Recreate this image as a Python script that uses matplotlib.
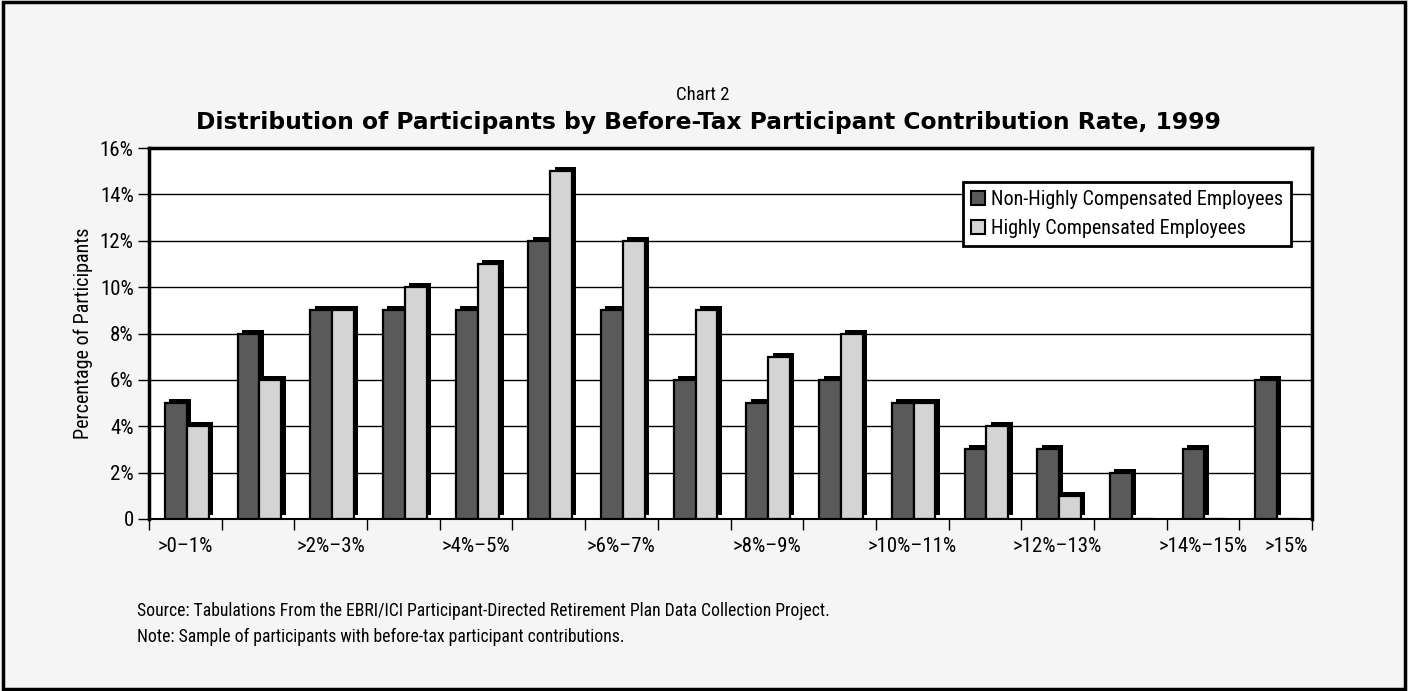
import matplotlib
matplotlib.use('Agg')
import matplotlib.pyplot as plt
import numpy as np
from matplotlib import font_manager
from matplotlib.patches import Patch, Rectangle

# pick a narrow font if there is one
names = set(f.name for f in font_manager.fontManager.ttflist)
narrow = 'DejaVu Sans'
for cand in ['Liberation Sans Narrow', 'DejaVu Sans Condensed', 'Roboto Condensed', 'Open Sans Condensed']:
    if cand in names:
        narrow = cand
        break
plt.rcParams['font.family'] = [narrow, 'DejaVu Sans']

categories = ['>0–1%', '>1%–2%', '>2%–3%', '>3%–4%', '>4%–5%', '>5%–6%', '>6%–7%', '>7%–8%',
              '>8%–9%', '>9%–10%', '>10%–11%', '>11%–12%', '>12%–13%', '>13%–14%', '>14%–15%', '>15%']
non_hce = [5, 8, 9, 9, 9, 12, 9, 6, 5, 6, 5, 3, 3, 2, 3, 6]
hce = [4, 6, 9, 10, 11, 15, 12, 9, 7, 8, 5, 4, 1, 0, 0, 0]
shown_labels = ['>0–1%', '>2%–3%', '>4%–5%', '>6%–7%', '>8%–9%', '>10%–11%', '>12%–13%', '>14%–15%', '>15%']
yticks = [0, 2, 4, 6, 8, 10, 12, 14, 16]
ytick_labels = ['0', '2%', '4%', '6%', '8%', '10%', '12%', '14%', '16%']

DARK = '#5a5a5a'
LIGHT = '#d4d4d4'
BG = '#f5f5f5'

W, H = 1408, 691
fig = plt.figure(figsize=(W / 100, H / 100), dpi=100, facecolor=BG)
# frame round the whole picture
fig.add_artist(Rectangle((0.002, 0.003), 0.996, 0.994, transform=fig.transFigure,
                         fill=False, edgecolor='black', linewidth=2.5))

ax = fig.add_axes([149 / W, 1 - 519 / H, (1312 - 149) / W, (519 - 148) / H])
ax.set_facecolor('white')

x = np.arange(len(categories))
bw = 0.30
off = 0.02
dx, dy = 0.06, 0.17

# depth shadow first, then the face
ax.bar(x + off - bw / 2 + 0.5 + dx, non_hce, bw, bottom=dy, color='black', linewidth=0, zorder=2)
ax.bar(x + off + bw / 2 + 0.5 + dx, hce, bw, bottom=dy, color='black', linewidth=0, zorder=2)
ax.bar(x + off - bw / 2 + 0.5, non_hce, bw, color=DARK, edgecolor='black', linewidth=1.6, zorder=3)
ax.bar(x + off + bw / 2 + 0.5, hce, bw, color=LIGHT, edgecolor='black', linewidth=1.6, zorder=3)

ax.set_xlim(0, len(categories))
ax.set_ylim(0, 16)
ax.set_yticks(yticks)
ax.set_yticklabels(ytick_labels, fontsize=15)
ax.yaxis.grid(True, color='black', linewidth=1)
ax.set_axisbelow(True)

ax.set_xticks(np.arange(len(categories) + 1))
ax.set_xticklabels([])
ax.set_xticks([0.5, 2.5, 4.5, 6.5, 8.5, 10.5, 12.5, 14.5, 15.65], minor=True)
ax.set_xticklabels(shown_labels, minor=True, fontsize=15)
ax.tick_params(axis='x', which='minor', length=0, pad=13)
ax.tick_params(axis='x', which='major', length=8, direction='out', width=1)
ax.tick_params(axis='y', length=8, direction='out', width=1, pad=3)

for s in ['left', 'top', 'right']:
    ax.spines[s].set_linewidth(2.5)
ax.spines['bottom'].set_linewidth(1.5)

ax.set_ylabel('Percentage of Participants', fontsize=14.5, labelpad=5)

handles = [Patch(facecolor=DARK, edgecolor='black', linewidth=1.5, label='Non-Highly Compensated Employees'),
           Patch(facecolor=LIGHT, edgecolor='black', linewidth=1.5, label='Highly Compensated Employees')]
leg = ax.legend(handles=handles, loc='upper right', bbox_to_anchor=(0.982, 0.908), fontsize=14.5,
                frameon=True, fancybox=False, framealpha=1, edgecolor='black',
                handlelength=0.7, handleheight=0.7, handletextpad=0.3, borderpad=0.4,
                labelspacing=0.5, borderaxespad=0)
leg.get_frame().set_linewidth(2)

fig.text(703 / W, 1 - 95 / H, 'Chart 2', ha='center', va='center', fontsize=13.5)
fig.text(708 / W, 1 - 122 / H, 'Distribution of Participants by Before-Tax Participant Contribution Rate, 1999',
         ha='center', va='center', fontsize=16.8, fontweight='bold', family='DejaVu Sans')
fig.text(137 / W, 1 - 611 / H,
         'Source: Tabulations From the EBRI/ICI Participant-Directed Retirement Plan Data Collection Project.',
         ha='left', va='center', fontsize=12.7)
fig.text(137 / W, 1 - 637 / H, 'Note: Sample of participants with before-tax participant contributions.',
         ha='left', va='center', fontsize=12.7)

fig.savefig('out.png', dpi=100, facecolor=BG)
